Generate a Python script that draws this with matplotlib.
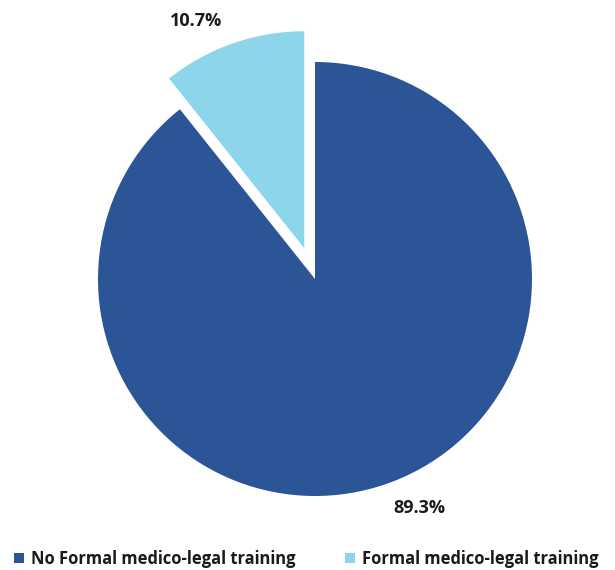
import numpy as np
import matplotlib.pyplot as plt

# data
labels = ["No Formal medico-legal training", "Formal medico-legal training"]
shares = [89.3, 10.7]
colors = ["#2B5597", "#8DD5EA"]
explode = [0.0, 0.15]

plt.rcParams['font.family'] = ['Open Sans', 'DejaVu Sans']

fig = plt.figure(figsize=(6.15, 5.7), dpi=100)
# radius 217 px around centre (315, 279) from the top
ax = fig.add_axes([(315 - 217) / 615, (570 - 279 - 217) / 570, 434 / 615, 434 / 570])

wedges, _ = ax.pie(shares, colors=colors, explode=explode, startangle=90,
                   counterclock=False, radius=1.0)
ax.set_xlim(-1, 1)
ax.set_ylim(-1, 1)
ax.set_aspect('equal')
ax.axis('off')
for w in wedges:
    w.set_clip_on(False)

# percentage labels outside the slices
label_pos = [(1.16, -65.6), (1.31, 114.8)]
for val, (r, ang) in zip(shares, label_pos):
    a = np.deg2rad(ang)
    ax.text(r * np.cos(a), r * np.sin(a), f"{val}%", ha='center', va='center',
            fontsize=13, fontweight='bold', color='#1a1a1a', clip_on=False)

leg = fig.legend(wedges, labels, loc='lower center', ncol=2, frameon=False,
                 bbox_to_anchor=(0.498, -0.014), handlelength=0.6, handleheight=0.6,
                 handletextpad=0.4, columnspacing=3.0, borderpad=0.1,
                 prop={'weight': 'bold', 'size': 11.9})
for t in leg.get_texts():
    t.set_color('#1a1a1a')

fig.savefig("out.png", dpi=100)
